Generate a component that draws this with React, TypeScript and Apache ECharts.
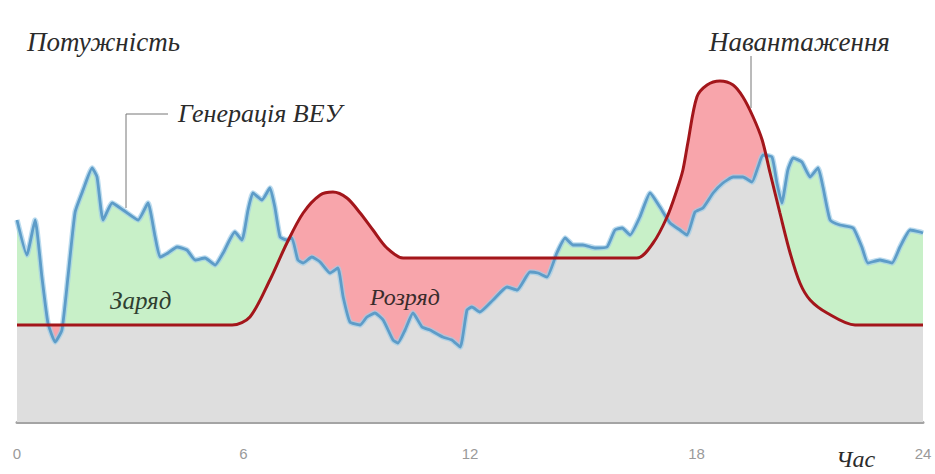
import React, { useEffect, useRef } from "react";
import * as echarts from "echarts";

// Wind generation (ВЕУ) – hour / power (arbitrary units)
const windHours = [
  0.0, 0.26, 0.48, 0.66, 0.82, 1.01, 1.19, 1.35, 1.54, 1.75, 1.99, 2.12, 2.28, 2.52, 2.81, 3.21, 3.47, 3.66, 3.79, 4.0,
  4.24, 4.5, 4.72, 4.98, 5.25, 5.46, 5.77, 5.96, 6.12, 6.25, 6.49, 6.7, 6.83, 6.97, 7.15, 7.28, 7.44, 7.58, 7.81, 8.03,
  8.29, 8.5, 8.64, 8.82, 9.09, 9.27, 9.48, 9.7, 9.96, 10.09, 10.28, 10.49, 10.73, 10.94, 11.28, 11.52, 11.74, 11.92, 12.05, 12.26,
  12.61, 12.98, 13.25, 13.59, 13.8, 14.04, 14.3, 14.52, 14.73, 14.99, 15.31, 15.63, 15.84, 16.03, 16.24, 16.5, 16.77, 17.03, 17.3, 17.56,
  17.75, 17.96, 18.17, 18.44, 18.7, 18.97, 19.23, 19.47, 19.63, 19.76, 20.0, 20.13, 20.26, 20.42, 20.56, 20.79, 21.01, 21.22, 21.35, 21.54,
  21.8, 22.15, 22.38, 22.54, 22.86, 23.18, 23.39, 23.66, 23.92, 24.0,
];
const windValues = [
  202, 167, 202, 145, 99, 80, 92, 145, 210, 232, 254, 245, 202, 219, 212, 202, 219, 185, 165, 169,
  175, 172, 162, 164, 157, 169, 190, 182, 212, 229, 222, 234, 215, 185, 182, 184, 162, 159, 165, 160,
  149, 154, 125, 100, 97, 105, 109, 102, 82, 79, 92, 109, 95, 92, 85, 82, 75, 112, 115, 110,
  122, 135, 132, 150, 149, 145, 169, 184, 177, 177, 174, 175, 192, 194, 187, 205, 229, 215, 199, 192,
  187, 210, 214, 229, 239, 245, 245, 240, 255, 267, 265, 239, 219, 252, 264, 260, 245, 254, 235, 202,
  197, 194, 175, 159, 162, 159, 175, 192, 190, 189,
];

// Load (Навантаження)
const loadHours = [
  0, 5.7, 6.17, 6.7, 7.15, 7.58, 8.03, 8.37, 8.74, 9.09, 9.43, 9.8, 10.23, 16.42, 16.85, 17.22, 17.48, 17.64, 17.77, 18.01,
  18.28, 18.62, 18.97, 19.23, 19.5, 19.74, 19.95, 20.21, 20.48, 20.74, 21.01, 21.46, 22.2, 24.0,
];
const loadValues = [
  97, 97, 105, 142, 179, 209, 227, 230, 224, 209, 192, 174, 164, 164, 179, 205, 232, 252, 279, 325,
  337, 341, 337, 325, 305, 282, 249, 209, 169, 139, 122, 109, 97, 97,
];

const xTickLabels = ["0", "6", "12", "18", "24"];

function interp(xs: number[], ys: number[], x: number): number {
  if (x <= xs[0]) return ys[0];
  for (let i = 1; i < xs.length; i++) {
    if (x <= xs[i]) {
      const t = (x - xs[i - 1]) / (xs[i] - xs[i - 1] || 1);
      return ys[i - 1] + t * (ys[i] - ys[i - 1]);
    }
  }
  return ys[ys.length - 1];
}

function buildMin(): number[][] {
  const xs = Array.from(new Set([...windHours, ...loadHours])).sort((a, b) => a - b);
  const out: number[][] = [];
  for (let i = 0; i < xs.length; i++) {
    const x = xs[i];
    const w = interp(windHours, windValues, x);
    const l = interp(loadHours, loadValues, x);
    if (i > 0) {
      const px = xs[i - 1];
      const pw = interp(windHours, windValues, px);
      const pl = interp(loadHours, loadValues, px);
      const d0 = pw - pl;
      const d1 = w - l;
      if (d0 * d1 < 0) {
        const t = d0 / (d0 - d1);
        const cx = px + t * (x - px);
        out.push([cx, pw + t * (w - pw)]);
      }
    }
    out.push([x, Math.min(w, l)]);
  }
  return out;
}

const serif = "'Liberation Serif', 'DejaVu Serif', serif";

export default function App() {
  const ref = useRef<HTMLDivElement>(null);
  useEffect(() => {
    if (!ref.current) return;
    const chart = echarts.init(ref.current, undefined, { renderer: "svg" });
    const windData = windHours.map((h, i) => [h, windValues[i]]);
    const loadData = loadHours.map((h, i) => [h, loadValues[i]]);
    const minData = buildMin();

    const txt = (text: string, x: number, y: number, size: number, fill = "#2b2b2b") => ({
      type: "text",
      x,
      y,
      z: 100,
      style: {
        text,
        fontFamily: serif,
        fontStyle: "italic",
        fontSize: size,
        fill,
        verticalAlign: "middle",
        align: "left",
      },
    });

    chart.setOption({
      animation: false,
      backgroundColor: "#ffffff",
      grid: { left: 17, right: 12, top: 22, bottom: 52, outerBoundsMode: "none" },
      xAxis: {
        type: "value",
        min: 0,
        max: 24,
        interval: 6,
        axisLine: { show: true, lineStyle: { color: "#a4a4a4", width: 3 } },
        axisTick: { show: false },
        splitLine: { show: false },
        axisLabel: {
          color: "#9a9a9a",
          fontSize: 15,
          fontFamily: "'Liberation Sans Narrow', 'Liberation Sans', sans-serif",
          margin: 24,
          formatter: (v: number) => xTickLabels[Math.round(v / 6)] ?? "",
        },
      },
      yAxis: { type: "value", min: 0, max: 400, show: false },
      series: [
        {
          type: "line",
          data: windData,
          symbol: "none",
          smooth: 0.15,
          lineStyle: { width: 0 },
          areaStyle: { color: "#c8f0c8", opacity: 1 },
          z: 1,
          silent: true,
        },
        {
          type: "line",
          data: loadData,
          symbol: "none",
          smooth: 0.3,
          lineStyle: { width: 0 },
          areaStyle: { color: "#f8a5ab", opacity: 1 },
          z: 2,
          silent: true,
        },
        {
          type: "line",
          data: minData,
          symbol: "none",
          lineStyle: { width: 0 },
          areaStyle: { color: "#dedede", opacity: 1 },
          z: 3,
          silent: true,
        },
        {
          type: "line",
          data: windData,
          symbol: "none",
          smooth: 0.15,
          lineStyle: { width: 5.5, color: "rgba(160,205,232,0.7)" },
          z: 4,
          silent: true,
        },
        {
          type: "line",
          data: windData,
          symbol: "none",
          smooth: 0.15,
          lineStyle: { width: 2.8, color: "#5d9cc8" },
          z: 5,
          silent: true,
        },
        {
          type: "line",
          data: loadData,
          symbol: "none",
          smooth: 0.3,
          lineStyle: { width: 3, color: "#a3161b" },
          z: 6,
          silent: true,
        },
      ],
      graphic: [
        txt("Потужність", 27, 42, 27),
        txt("Генерація ВЕУ", 178, 113, 26),
        txt("Навантаження", 709, 42, 27),
        txt("Заряд", 110, 300, 25, "#2f3f30"),
        txt("Розряд", 370, 297, 24, "#3a2c2c"),
        txt("Час", 836, 459, 24),
        {
          type: "polyline",
          z: 100,
          shape: { points: [[168, 114], [126, 114], [126, 208]] },
          style: { stroke: "#777", lineWidth: 1, fill: "none" },
        },
        {
          type: "line",
          z: 100,
          shape: { x1: 751, y1: 56, x2: 751, y2: 108 },
          style: { stroke: "#777", lineWidth: 1 },
        },
      ],
    });
    return () => chart.dispose();
  }, []);
  return (
    <div
      ref={ref}
      style={{ position: "fixed", left: 0, top: 0, width: 935, height: 474, background: "#fff" }}
    />
  );
}
